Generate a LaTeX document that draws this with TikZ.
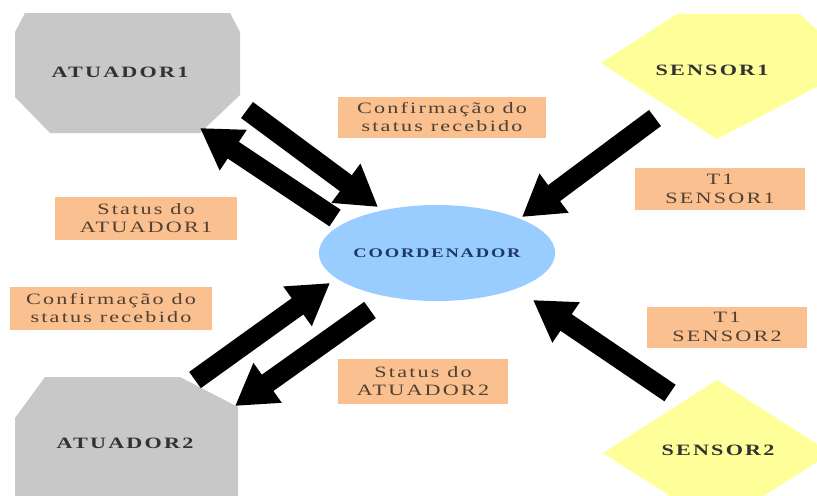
\documentclass[tikz,border=0pt]{standalone}
\usepackage{fontspec}
\setmainfont{Liberation Serif}
\newfontfamily\lblfont[FakeStretch=1.4, LetterSpace=14]{Liberation Serif}
\usetikzlibrary{arrows.meta,shapes.geometric}

\definecolor{actgray}{RGB}{200,200,200}
\definecolor{senyellow}{RGB}{255,255,153}
\definecolor{coordblue}{RGB}{153,204,255}
\definecolor{msgpeach}{RGB}{250,192,144}
\definecolor{msgtext}{RGB}{80,64,50}
\definecolor{shapetext}{RGB}{50,50,50}
\definecolor{coordtext}{RGB}{31,56,100}

\tikzset{
  msgbox/.style={fill=msgpeach, text=msgtext, align=center, inner sep=0pt,
    font=\lblfont\fontsize{9}{10.5}\selectfont},
  shapelabel/.style={text=shapetext, font=\lblfont\bfseries\fontsize{9}{11}\selectfont},
  flow/.style={line width=0.4cm, -{Triangle[length=0.8cm, width=0.92cm]}}
}

\begin{document}
\begin{tikzpicture}[x=0.02cm, y=-0.02cm]
  \clip (0,0) rectangle (817,495);
  \fill[white] (0,0) rectangle (817,495);
  % Actuator 1
  \fill[actgray] (15,32) -- (25,13) -- (230,13) -- (240,32) -- (240,95)
    -- (200,133) -- (50,133) -- (15,97) -- cycle;
  \node[shapelabel] (atuador1) at (120,72) {ATUADOR1};
  % Actuator 2
  \fill[actgray] (15,418) -- (45,377) -- (180,377) -- (238,407) -- (238,520)
    -- (15,520) -- cycle;
  \node[shapelabel] (atuador2) at (125,443) {ATUADOR2};
  % Sensor 1
  \fill[senyellow] (601,63) -- (677,14) -- (800,14) -- (817,30) -- (817,87)
    -- (717,139) -- cycle;
  \node[shapelabel] (sensor1) at (712,70) {SENSOR1};
  % Sensor 2
  \fill[senyellow] (603,453) -- (717,380) -- (831,453) -- (717,526) -- cycle;
  \node[shapelabel] (sensor2) at (718,450) {SENSOR2};
  % Coordinator
  \node[ellipse, fill=coordblue, minimum width=4.28cm, minimum height=1.92cm,
    inner sep=0pt, text=coordtext, font=\lblfont\bfseries\fontsize{7.5}{9}\selectfont]
    (coord) at (437,253) {COORDENADOR};
  % Message labels
  \node[msgbox, minimum width=4.18cm, minimum height=0.82cm]
    (confA1) at (442,117) {Confirmação do\\status recebido};
  \node[msgbox, minimum width=3.42cm, minimum height=0.84cm]
    (t1s1) at (720,189) {T1\\SENSOR1};
  \node[msgbox, minimum width=3.66cm, minimum height=0.86cm]
    (statA1) at (146,218) {Status do\\ATUADOR1};
  \node[msgbox, minimum width=4.06cm, minimum height=0.86cm]
    (confA2) at (111,308) {Confirmação do\\status recebido};
  \node[msgbox, minimum width=3.2cm, minimum height=0.82cm]
    (t1s2) at (727,327) {T1\\SENSOR2};
  \node[msgbox, minimum width=3.42cm, minimum height=0.9cm]
    (statA2) at (423,381) {Status do\\ATUADOR2};
  % Arrow ends
  \coordinate (a1out) at (247,110);
  \coordinate (a1in) at (200,128);
  \coordinate (cA1in) at (378,207);
  \coordinate (cA1out) at (335,218);
  \coordinate (s1out) at (655,118);
  \coordinate (cS1in) at (522,217);
  \coordinate (a2out) at (195,380);
  \coordinate (a2in) at (235,406);
  \coordinate (cA2in) at (330,283);
  \coordinate (cA2out) at (370,310);
  \coordinate (s2out) at (670,393);
  \coordinate (cS2in) at (533,300);
  % Flows
  \draw[flow] (a1out) -- (cA1in);
  \draw[flow] (cA1out) -- (a1in);
  \draw[flow] (s1out) -- (cS1in);
  \draw[flow] (a2out) -- (cA2in);
  \draw[flow] (cA2out) -- (a2in);
  \draw[flow] (s2out) -- (cS2in);
\end{tikzpicture}
\end{document}
